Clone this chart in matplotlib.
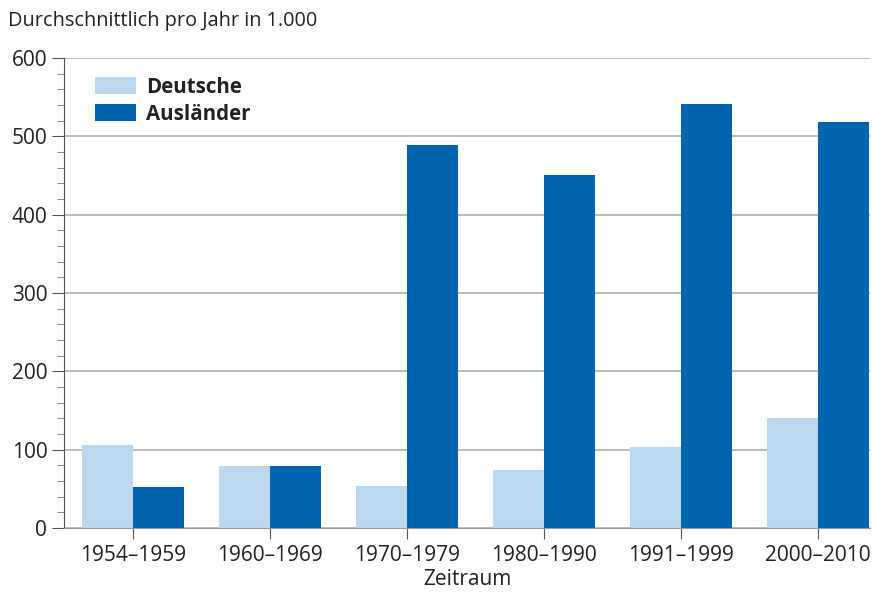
import matplotlib.pyplot as plt
import numpy as np
from matplotlib.ticker import MultipleLocator

plt.rcParams['font.family'] = ['Open Sans', 'DejaVu Sans']

zeitraum = ['1954–1959', '1960–1969', '1970–1979', '1980–1990', '1991–1999', '2000–2010']
deutsche = [106, 79, 54, 74, 103, 140]
auslaender = [52, 79, 489, 451, 541, 518]

hell = '#bdd7ee'
dunkel = '#0064b0'

fig = plt.figure(figsize=(8.77, 5.92), dpi=100)
ax = fig.add_axes([0.073, 0.108, 0.919, 0.794])

x = np.arange(len(zeitraum))
w = 0.373
ax.bar(x - w / 2, deutsche, w, color=hell, label='Deutsche', zorder=2)
ax.bar(x + w / 2, auslaender, w, color=dunkel, label='Ausländer', zorder=2)

ax.set_ylim(0, 600)
ax.set_xlim(-0.504, 5.38)
ax.yaxis.set_major_locator(MultipleLocator(100))
ax.yaxis.set_minor_locator(MultipleLocator(20))
ax.set_xticks(x)
ax.set_xticklabels(zeitraum)
ax.grid(axis='y', color='#b0b0b0', linewidth=1.2, zorder=0)

for s in ['top', 'right']:
    ax.spines[s].set_visible(False)
ax.spines['left'].set_color('#555555')
ax.spines['bottom'].set_color('#999999')
ax.tick_params(axis='y', which='major', length=9, color='#555555', labelsize=15, pad=3,
               labelcolor='#222222')
ax.tick_params(axis='y', which='minor', length=5, color='#777777')
ax.tick_params(axis='x', length=8, color='#555555', labelsize=15, pad=4, labelcolor='#222222')

ax.set_xlabel('Zeitraum', fontsize=15, labelpad=2, color='#222222')
fig.text(0.009, 0.965, 'Durchschnittlich pro Jahr in 1.000', fontsize=14.3, va='center', color='#222222')

leg = ax.legend(loc='upper left', bbox_to_anchor=(0.015, 1.0), frameon=False,
                handlelength=2.0, handleheight=0.95, handletextpad=0.5,
                labelspacing=0.3, prop={'weight': 'bold', 'size': 14.8})
for t in leg.get_texts():
    t.set_color('#222222')

fig.savefig('out.png', dpi=100)
